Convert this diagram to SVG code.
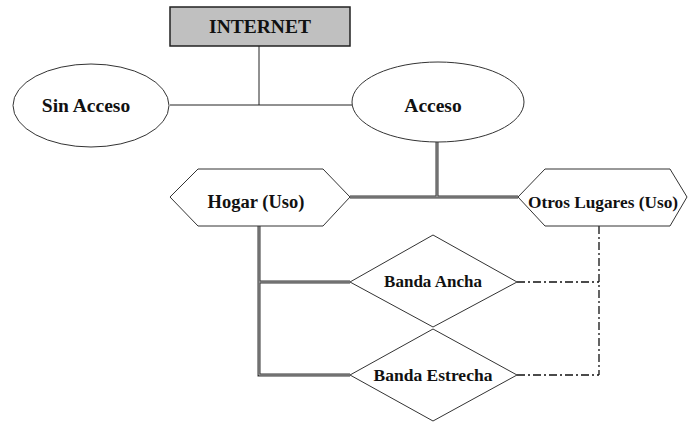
<svg xmlns="http://www.w3.org/2000/svg" width="688" height="422" viewBox="0 0 688 422">
<style>
.shape{fill:#fff;stroke:#333;stroke-width:1}
.lbl{font-family:"Liberation Serif","Times New Roman",serif;font-weight:bold;text-anchor:middle;fill:#111}
.thin{fill:none;stroke:#222;stroke-width:1}
.dbl{fill:none;stroke:#333;stroke-width:3}
.dblin{fill:none;stroke:#b0b0b0;stroke-width:1}
.dd{fill:none;stroke:#111;stroke-width:1.3;stroke-dasharray:8 3 2 3}
</style>
<rect width="688" height="422" fill="#fff"/>
<g id="connectors">
<path class="thin" d="M259 46V105M170 105H352"/>
<path class="dbl" d="M437 142V197M350 197H518M259 226V375H350M259 282H350"/>
<path class="dblin" d="M437 142V197M350 197H518M259 226V375H350M259 282H350"/>
<path class="dd" d="M599 226V375M517 282H599M517 375H599"/>
</g>
<g id="internet">
<rect x="170" y="7" width="180" height="39" fill="#c0c0c0" stroke="#222" stroke-width="1.5"/>
<text class="lbl" x="260" y="33" font-size="19.5">INTERNET</text>
</g>
<g id="sin-acceso">
<ellipse class="shape" cx="91" cy="105.5" rx="78" ry="41.5"/>
<text class="lbl" x="86" y="112" font-size="19.5">Sin Acceso</text>
</g>
<g id="acceso">
<ellipse class="shape" cx="438" cy="102" rx="86" ry="40"/>
<text class="lbl" x="433" y="112" font-size="19.5">Acceso</text>
</g>
<g id="hogar">
<polygon class="shape" points="170,197 198,169 323,169 350,197 323,226 198,226"/>
<text class="lbl" x="256" y="208" font-size="18.5">Hogar (Uso)</text>
</g>
<g id="otros-lugares">
<polygon class="shape" points="518,197 545,169 670,169 687,197 670,226 545,226"/>
<text class="lbl" x="603" y="208" font-size="17.3">Otros Lugares (Uso)</text>
</g>
<g id="banda-ancha">
<polygon class="shape" points="350,282 433,235 517,282 433,327"/>
<text class="lbl" x="433" y="287" font-size="17">Banda Ancha</text>
</g>
<g id="banda-estrecha">
<polygon class="shape" points="350,375 433,329 517,375 433,421"/>
<text class="lbl" x="433" y="381" font-size="17.5">Banda Estrecha</text>
</g>
</svg>
